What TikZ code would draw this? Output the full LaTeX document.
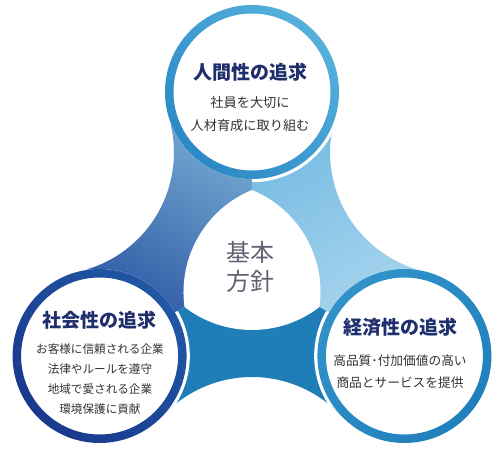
\documentclass[tikz,border=0pt]{standalone}
\usepackage{fontspec}
\newfontfamily\cjk{Noto Sans CJK JP}
\usetikzlibrary{calc}
\definecolor{navy}{HTML}{1F2E6C}
\definecolor{subgray}{HTML}{333333}
\definecolor{centgray}{HTML}{5E6272}
\definecolor{ringTa}{HTML}{55B0DC}
\definecolor{ringTb}{HTML}{2C89C6}
\definecolor{ringLa}{HTML}{2157A4}
\definecolor{ringLb}{HTML}{19398D}
\definecolor{ringRa}{HTML}{3192C9}
\definecolor{ringRb}{HTML}{2180BC}
\definecolor{tlA}{HTML}{7DB3D6}
\definecolor{tlB}{HTML}{2550A0}
\definecolor{trA}{HTML}{6FB8E2}
\definecolor{trB}{HTML}{AED8EE}
\definecolor{botc}{HTML}{1F7DB8}
\begin{document}
\begin{tikzpicture}[x=1pt,y=1pt,
  gap/.style={draw=white, line width=3.5pt},
  titletext/.style={font=\cjk\bfseries\fontsize{19}{22}\selectfont, text=navy, inner sep=0pt},
  subtop/.style={font=\cjk\fontsize{13.2}{15}\selectfont, text=subgray, inner sep=0pt},
  subleft/.style={font=\cjk\fontsize{11.6}{14}\selectfont, text=subgray, inner sep=0pt},
  subright/.style={font=\cjk\fontsize{12.7}{15}\selectfont, text=subgray, inner sep=0pt},
  centertext/.style={font=\cjk\fontsize{24}{29}\selectfont, text=centgray, align=center, inner sep=0pt}]
\useasboundingbox (-252,-181) rectangle (250,268);
\coordinate (G) at (0,0);
\coordinate (T) at (90:176);
\coordinate (L) at (210:176);
\coordinate (R) at (330:176);
\coordinate (C1) at (150:231);
\coordinate (C2) at (270:231);
\coordinate (C3) at (30:231);
% connectors
\begin{scope}
\clip (T) -- ($(C1)!122pt!(T)$) arc[start angle=16.83, end angle=-76.83, radius=122pt]
  -- (L) -- ($(C2)!122pt!(L)$) arc[start angle=136.83, end angle=43.17, radius=122pt]
  -- (R) -- ($(C3)!122pt!(R)$) arc[start angle=256.83, end angle=163.17, radius=122pt] -- cycle;
\shade[top color=tlA, bottom color=tlB, shading angle=-30] (G) -- (90:190) -- (150:190) -- (210:190) -- cycle;
\shade[top color=trA, bottom color=trB, shading angle=30] (G) -- (330:190) -- (30:190) -- (90:190) -- cycle;
\fill[botc] (G) -- (210:200) -- (270:200) -- (330:200) -- cycle;
\draw[gap] ($(T)+(270:88.5)$) arc[start angle=270, end angle=346, radius=88.5pt];
\draw[gap] ($(L)+(30:88.5)$) arc[start angle=30, end angle=-46, radius=88.5pt];
\draw[gap] ($(R)+(150:88.5)$) arc[start angle=150, end angle=226, radius=88.5pt];
\end{scope}
% white centre
\fill[white] (90:78) arc[start angle=112.33, end angle=187.67, radius=110.5pt]
  arc[start angle=232.33, end angle=307.67, radius=110.5pt]
  arc[start angle=352.33, end angle=427.67, radius=110.5pt] -- cycle;
% circles
\fill[white] (T) circle[radius=87pt];
\fill[white] (L) circle[radius=87pt];
\fill[white] (R) circle[radius=87pt];
\shade[even odd rule, top color=ringTa, bottom color=ringTb, shading angle=-45] (T) circle[radius=87pt] (T) circle[radius=78.5pt];
\shade[even odd rule, top color=ringLa, bottom color=ringLb, shading angle=-45] (L) circle[radius=87pt] (L) circle[radius=78.5pt];
\shade[even odd rule, top color=ringRa, bottom color=ringRb, shading angle=45] (R) circle[radius=87pt] (R) circle[radius=78.5pt];
% texts
\node[centertext] (ctr) at (-2,1) {基本\\方針};
\node[titletext] (tT) at (-2,196) {人間性の追求};
\node[subtop] (tT1) at (-2,165) {社員を大切に};
\node[subtop] (tT2) at (-2,142) {人材育成に取り組む};
\node[titletext] (tL) at (-152,-52) {社会性の追求};
\node[subleft] (tL1) at (-152,-81) {お客様に信頼される企業};
\node[subleft] (tL2) at (-152,-101) {法律やルールを遵守};
\node[subleft] (tL3) at (-152,-121) {地域で愛される企業};
\node[subleft] (tL4) at (-152,-141) {環境保護に貢献};
\node[titletext] (tR) at (148,-59) {経済性の追求};
\node[subright] (tR1) at (148,-93) {高品質･付加価値の高い};
\node[subright] (tR2) at (148,-115) {商品とサービスを提供};
\end{tikzpicture}
\end{document}
